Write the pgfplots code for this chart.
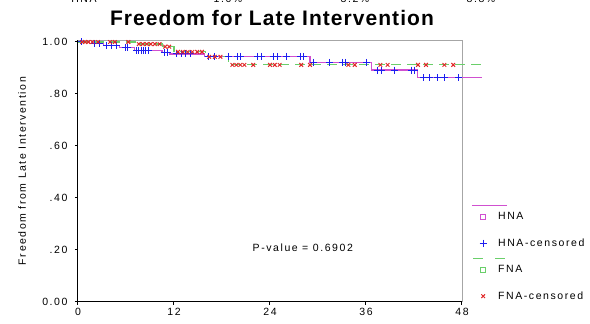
\documentclass[border=0pt]{standalone}
\usepackage{fontspec}
\setmainfont{Liberation Sans}
\newfontfamily\lsp[LetterSpace=15]{Liberation Sans}
\newfontfamily\tsp[LetterSpace=5]{Liberation Sans}
\usepackage{pgfplots}
\pgfplotsset{compat=1.18}
\definecolor{hnaline}{HTML}{D050D0}
\definecolor{hnamark}{HTML}{1E1EF0}
\definecolor{fnaline}{HTML}{6ACF6A}
\definecolor{fnamark}{HTML}{E02828}
\newcommand{\sm}{\lsp\fontsize{10.5}{12}\selectfont}
\begin{document}
\begin{tikzpicture}
\useasboundingbox (0,0) rectangle (590pt,324pt);
\begin{axis}[
  at={(78pt,22pt)}, anchor=south west,
  scale only axis, width=384pt, height=262pt,
  xmin=0, xmax=48, ymin=0, ymax=1.0077,
  clip=false,
  axis x line*=bottom, axis y line*=left,
  axis line style={line width=1pt, -},
  xtick={0,12,24,36,48},
  ytick={0,0.2,0.4,0.6,0.8,1},
  yticklabels={0.00,.20,.40,.60,.80,1.00},
  tick align=outside, major tick length=3pt,
  tick style={black, line width=1pt},
  ticklabel style={font=\sm},
  yticklabel style={xshift=-4pt},
  /pgf/number format/assume math mode=true,
  ylabel={Freedom from Late Intervention},
  ylabel style={font=\sm, at={(axis description cs:-0.1458,0.5)}, anchor=center},
  title={\tsp\fontsize{21}{24}\selectfont\bfseries Freedom for Late Intervention},
  title style={at={(axis description cs:0.5,1)}, anchor=base, yshift=8.5pt, xshift=2pt},
  legend style={at={(axis cs:50.125,0.348)}, anchor=north west, draw=none, fill=none,
    inner sep=0pt, row sep=16.5pt, font=\sm, nodes={inner sep=0pt},
    /tikz/every even column/.append style={column sep=0pt}},
  legend cell align=left,
]
\draw[gray!70, line width=0.8pt] (rel axis cs:0,1) -- (rel axis cs:1,1) -- (rel axis cs:1,0);

\addplot[const plot, color=hnaline, line width=1.2pt, legend image code/.code={
    \draw[color=hnaline, line width=1.4pt, overlay] (-11pt,11.5pt) -- (24pt,11.5pt);
    \draw[color=hnaline, line width=0.9pt] (-2.3pt,-2.3pt) rectangle (2.3pt,2.3pt);
    \path[draw=none, fill=none] (-4pt,-5pt) rectangle (15pt,5pt);}]
coordinates {(0,1.000) (1.4,0.995) (3.2,0.987) (5.2,0.978) (7.1,0.968) (10.5,0.960) (11.5,0.954) (15.8,0.945) (29.0,0.922) (36.7,0.892) (42.4,0.862) (50.5,0.862)};
\addlegendentry{HNA}

\addplot[only marks, mark=+, mark size=3.5pt, color=hnamark, mark options={line width=1pt}, legend image code/.code={
    \draw plot coordinates {(0pt,0pt)};
    \path[draw=none, fill=none] (-4pt,-5pt) rectangle (15pt,5pt);}]
coordinates {(0.5,1.000) (2.1,0.995) (2.7,0.995) (3.6,0.987) (4.2,0.987) (4.8,0.987) (5.9,0.978) (6.2,0.978)
 (7.3,0.968) (7.6,0.968) (7.9,0.968) (8.2,0.968) (8.5,0.968) (8.8,0.968) (10.8,0.960) (11.2,0.960)
 (12.3,0.954) (12.9,0.954) (13.5,0.954) (14.1,0.954) (16.3,0.945) (17.1,0.945) (18.8,0.945) (19.9,0.945) (20.3,0.945)
 (22.5,0.945) (23.0,0.945) (24.4,0.945) (25.0,0.945) (26.1,0.945) (27.8,0.945) (28.2,0.945)
 (29.5,0.922) (31.5,0.922) (33.1,0.922) (33.4,0.922) (36.1,0.922)
 (37.4,0.892) (37.9,0.892) (39.6,0.892) (41.7,0.892) (42.1,0.892)
 (43.2,0.862) (44.0,0.862) (44.9,0.862) (45.8,0.862) (47.6,0.862)};
\addlegendentry{HNA-censored}

\addplot[const plot, color=fnaline, line width=1.2pt, dash pattern=on 10pt off 6pt, legend image code/.code={
    \draw[color=fnaline, line width=1.4pt, overlay, dash pattern=on 10pt off 12pt] (-10pt,11.5pt) -- (22pt,11.5pt);
    \draw[color=fnaline, line width=0.9pt, solid] (-2.3pt,-2.3pt) rectangle (2.3pt,2.3pt);
    \path[draw=none, fill=none] (-4pt,-5pt) rectangle (15pt,5pt);}]
coordinates {(0,1.000) (7.3,0.992) (10.6,0.982) (12.0,0.962) (15.9,0.943) (18.8,0.912) (50.5,0.912)};
\addlegendentry{FNA}

\addplot[only marks, mark=x, mark size=2.6pt, color=fnamark, mark options={line width=1pt}, legend image code/.code={
    \draw plot coordinates {(0pt,0pt)};
    \path[draw=none, fill=none] (-4pt,-5pt) rectangle (15pt,5pt);}]
coordinates {(0.5,1.000) (0.9,1.000) (1.3,1.000) (1.8,1.000) (2.5,1.000) (4.0,1.000) (4.6,1.000) (6.3,1.000)
 (7.6,0.992) (8.1,0.992) (8.6,0.992) (9.1,0.992) (9.6,0.992) (10.2,0.992)
 (10.9,0.982) (11.4,0.982)
 (12.5,0.962) (13.1,0.962) (13.7,0.962) (14.3,0.962) (14.9,0.962) (15.5,0.962)
 (16.4,0.943) (17.1,0.943) (17.8,0.943)
 (19.3,0.912) (19.8,0.912) (20.3,0.912) (20.8,0.912) (21.9,0.912) (24.0,0.912) (24.6,0.912) (25.2,0.912)
 (27.9,0.912) (29.0,0.912) (33.8,0.912) (34.6,0.912) (37.8,0.912) (38.7,0.912) (42.5,0.912) (43.5,0.912)
 (45.8,0.912) (46.9,0.912)};
\addlegendentry{FNA-censored}

\node[font=\sm] at (axis cs:28.1,0.208) {P-value = 0.6902};
\end{axis}
\node[font=\sm, anchor=base] at (84pt,321.3pt) {HNA};
\node[font=\sm, anchor=base] at (228pt,321.3pt) {1.0\%};
\node[font=\sm, anchor=base] at (355pt,321.3pt) {3.2\%};
\node[font=\sm, anchor=base] at (481pt,321.3pt) {8.8\%};
\end{tikzpicture}
\end{document}
